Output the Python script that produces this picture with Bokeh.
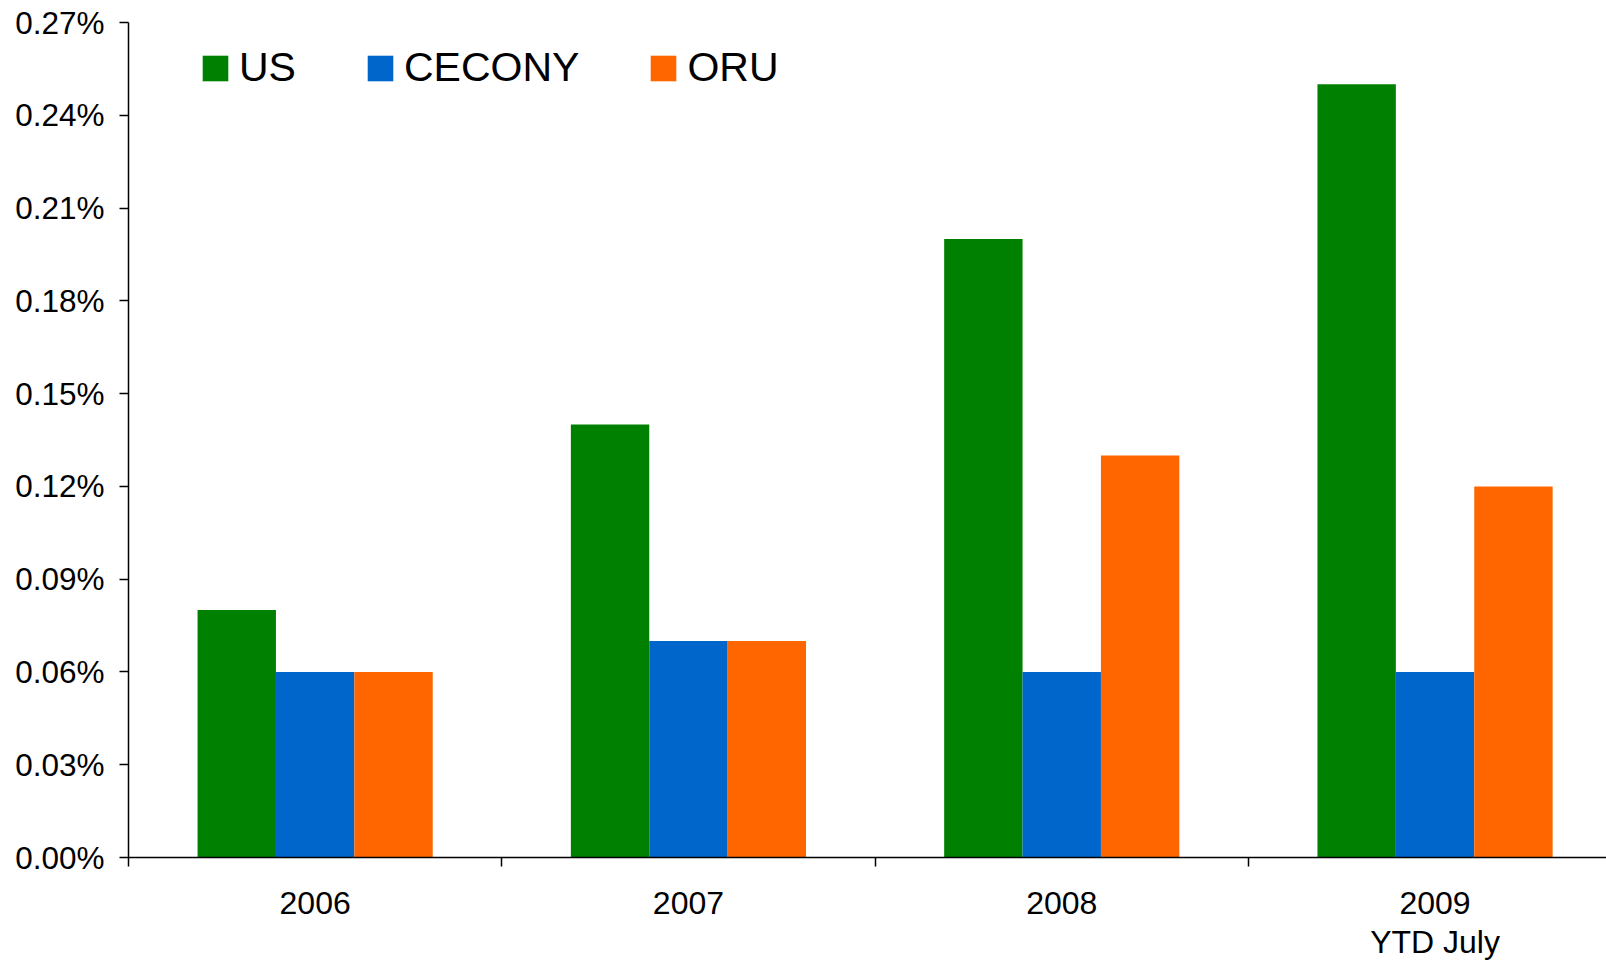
from bokeh.plotting import figure
from bokeh.models import (Range1d, FixedTicker, PrintfTickFormatter, Legend, LegendItem)
from bokeh.embed import file_html
from bokeh.resources import INLINE

categories = ["2006", "2007", "2008", "2009\nYTD July"]
series_names = ["US", "CECONY", "ORU"]
us = [0.08, 0.14, 0.20, 0.25]
cecony = [0.06, 0.07, 0.06, 0.06]
oru = [0.06, 0.07, 0.13, 0.12]
y_ticks = [0.00, 0.03, 0.06, 0.09, 0.12, 0.15, 0.18, 0.21, 0.24, 0.27]

colors = ["#008000", "#0066CC", "#FF6600"]
FONT = "Liberation Sans"

n = len(categories)
centers = [i + 0.5 for i in range(n)]
bar_w = 0.21
offsets = [-bar_w, 0.0, bar_w]

p = figure(width=1606, height=963, output_backend="svg", toolbar_location=None,
           x_range=Range1d(0, 1478 / 373.3), y_range=Range1d(0, 0.27),
           min_border_left=128, min_border_right=0, min_border_top=22,
           min_border_bottom=10)
p.outline_line_color = None
p.xgrid.visible = False
p.ygrid.visible = False
p.background_fill_color = "white"
p.border_fill_color = "white"

renderers = []
for vals, col, off in zip([us, cecony, oru], colors, offsets):
    r = p.vbar(x=[c + off for c in centers], top=vals, width=bar_w,
               fill_color=col, line_color=None)
    renderers.append(r)

# axes
xa = p.xaxis[0]
xa.ticker = FixedTicker(ticks=centers, minor_ticks=list(range(n)))
xa.major_label_overrides = {c: lab for c, lab in zip(centers, categories)}
xa.major_tick_out = 0
xa.major_tick_in = 0
xa.minor_tick_out = 9
xa.minor_tick_in = 0
xa.minor_tick_line_color = "black"
xa.minor_tick_line_width = 1.5
xa.axis_line_color = "black"
xa.axis_line_width = 1.5
xa.major_label_text_font = FONT
xa.major_label_text_font_size = "32px"
xa.major_label_text_color = "black"
xa.major_label_standoff = 18
xa.major_label_text_line_height = 1.1

ya = p.yaxis[0]
ya.ticker = FixedTicker(ticks=y_ticks)
ya.formatter = PrintfTickFormatter(format="%.2f%%")
ya.major_tick_out = 9
ya.major_tick_in = 0
ya.minor_tick_line_color = None
ya.major_tick_line_color = "black"
ya.major_tick_line_width = 1.5
ya.axis_line_color = "black"
ya.axis_line_width = 1.5
ya.major_label_text_font = FONT
ya.major_label_text_font_size = "31.5px"
ya.major_label_text_color = "black"
ya.major_label_standoff = 15

legend = Legend(items=[LegendItem(label=nm, renderers=[r]) for nm, r in zip(series_names, renderers)],
                orientation="horizontal", location=(71, 766),
                glyph_width=32, glyph_height=32, label_standoff=8, spacing=68,
                padding=0, margin=0, border_line_color=None, background_fill_alpha=0,
                label_text_font=FONT, label_text_font_size="41px", label_text_color="black")
p.add_layout(legend, "center")

open("out.html", "w").write(file_html(p, INLINE))
